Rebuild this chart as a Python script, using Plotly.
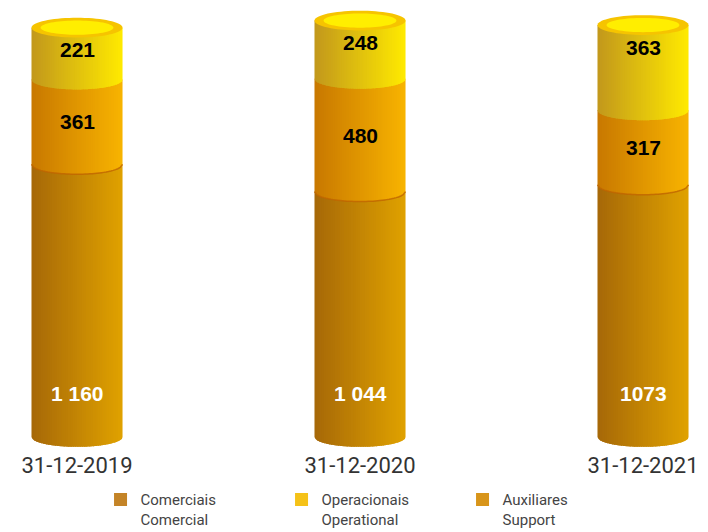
import numpy as np
import plotly.graph_objects as go

# Headcount per date, stacked bottom to top
dates = ["31-12-2019", "31-12-2020", "31-12-2021"]
comerciais = [1160, 1044, 1073]
auxiliares = [361, 480, 317]
operacionais = [221, 248, 363]

# Label strings shown on each segment
comerciais_labels = ["1 160", "1 044", "1073"]
auxiliares_labels = [str(v) for v in auxiliares]
operacionais_labels = [str(v) for v in operacionais]

series_names = ["Comerciais<br>Comercial", "Operacionais<br>Operational", "Auxiliares<br>Support"]
legend_colors = ["#C48427", "#F5C218", "#D8951A"]

x_pos = [0, 1, 2]

# Cylinder geometry in axis units
HW = 0.1608        # half width of a cylinder
RY = 42.0          # vertical radius of the elliptical rims
N_STRIPS = 40      # strips used for the horizontal shading

# (values, left colour, right colour) from bottom to top
stack = [
    (comerciais, (0xA6, 0x68, 0x08), (0xE0, 0xA2, 0x00)),
    (auxiliares, (0xC8, 0x78, 0x00), (0xF8, 0xB4, 0x00)),
    (operacionais, (0xC2, 0x98, 0x1C), (0xFF, 0xEA, 0x00)),
]


def lerp(c1, c2, t):
    r, g, b = (int(round(a + (b_ - a) * t)) for a, b_ in zip(c1, c2))
    return f"rgb({r},{g},{b})"


def rim(xc, x):
    return RY * np.sqrt(np.clip(1 - ((x - xc) / HW) ** 2, 0, 1))


def ellipse_path(xc, yc, rx, ry, n=72):
    t = np.linspace(0, 2 * np.pi, n, endpoint=False)
    pts = [f"{xc + rx * np.cos(a):.5f},{yc + ry * np.sin(a):.3f}" for a in t]
    return "M" + " L".join(pts) + " Z"


shapes = []
annotations = []

for i, xc in enumerate(x_pos):
    base = 0.0
    for k, (vals, c_left, c_right) in enumerate(stack):
        top = base + vals[i]
        for j in range(N_STRIPS):
            xa = xc - HW + 2 * HW * j / N_STRIPS
            xb = min(xc - HW + 2 * HW * (j + 1.8) / N_STRIPS, xc + HW)
            xs = np.linspace(xb, xa, 6)
            ys = base - rim(xc, xs)
            path = f"M{xa:.5f},{top:.3f} L{xb:.5f},{top:.3f} " + " ".join(
                f"L{x:.5f},{y:.3f}" for x, y in zip(xs, ys)) + " Z"
            shapes.append(dict(type="path", xref="x", yref="y", path=path,
                               fillcolor=lerp(c_left, c_right, (j + 0.5) / N_STRIPS),
                               line=dict(width=0), layer="above"))
        if k == 1:
            xs = np.linspace(xc - HW, xc + HW, 40)
            ys = base - rim(xc, xs)
            path = "M" + " L".join(f"{x:.5f},{y:.3f}" for x, y in zip(xs, ys))
            shapes.append(dict(type="path", xref="x", yref="y", path=path,
                               line=dict(color="rgba(190,100,0,0.8)", width=1.5),
                               layer="above"))
        base = top

    # Top face of the cylinder
    total = base
    shapes.append(dict(type="path", xref="x", yref="y",
                       path=ellipse_path(xc, total, HW, RY),
                       fillcolor="#F6C400", line=dict(width=0), layer="above"))
    shapes.append(dict(type="path", xref="x", yref="y",
                       path=ellipse_path(xc, total, HW * 0.8, RY * 0.72),
                       fillcolor="#FFEE00", line=dict(width=0), layer="above"))

    # Value labels
    c0 = comerciais[i]
    c1 = c0 + auxiliares[i]
    annotations.append(dict(x=xc, y=187, xref="x", yref="y", text=f"<b>{comerciais_labels[i]}</b>",
                            showarrow=False, font=dict(size=21, color="white", family="Liberation Sans")))
    annotations.append(dict(x=xc, y=(c0 + c1) / 2, xref="x", yref="y", text=f"<b>{auxiliares_labels[i]}</b>",
                            showarrow=False, font=dict(size=21, color="black", family="Liberation Sans")))
    annotations.append(dict(x=xc, y=total - 95, xref="x", yref="y", text=f"<b>{operacionais_labels[i]}</b>",
                            showarrow=False, font=dict(size=21, color="black", family="Liberation Sans")))

fig = go.Figure()
for name, col in zip(series_names, legend_colors):
    fig.add_trace(go.Scatter(x=[None], y=[None], mode="markers", name=name,
                             marker=dict(symbol="square", size=13, color=col)))

fig.update_layout(
    width=708, height=532,
    margin=dict(l=0, r=0, t=0, b=82, autoexpand=False),
    paper_bgcolor="white", plot_bgcolor="white",
    shapes=shapes, annotations=annotations,
    font=dict(family="Roboto", color="#333333"),
    xaxis=dict(range=[-77 / 283, 631 / 283], tickvals=x_pos, ticktext=dates,
               tickfont=dict(size=22, color="#333333"), showgrid=False,
               zeroline=False, showline=False, ticks=""),
    yaxis=dict(range=[-13 / 0.235, 437 / 0.235], visible=False),
    showlegend=True,
    legend=dict(orientation="h", x=0.142, xanchor="left", y=-0.074, yanchor="top",
                entrywidth=136, entrywidthmode="pixels", valign="top",
                font=dict(size=15, color="#444444"), bgcolor="rgba(0,0,0,0)",
                itemclick=False),
)

fig.write_html("out.html")
